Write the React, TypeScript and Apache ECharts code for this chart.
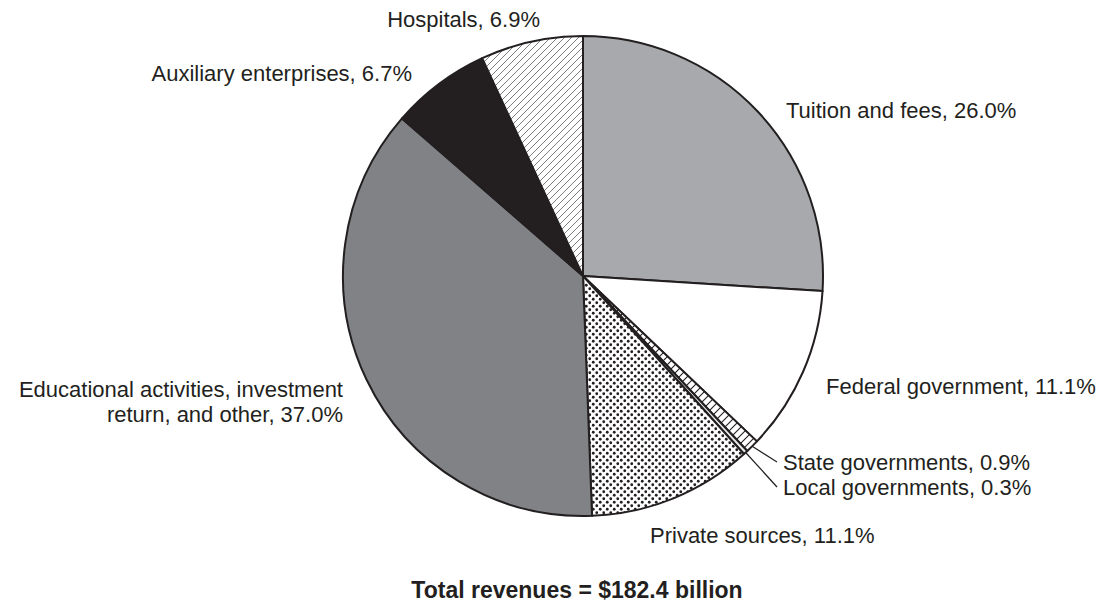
import React, { useEffect, useRef } from "react";
import * as echarts from "echarts";

const categories = [
  "Tuition and fees",
  "Federal government",
  "State governments",
  "Local governments",
  "Private sources",
  "Educational activities, investment\nreturn, and other",
  "Auxiliary enterprises",
  "Hospitals",
];
const values = [26.0, 11.1, 0.9, 0.3, 11.1, 37.0, 6.7, 6.9];
const titleText = "Total revenues = $182.4 billion";

// label layout (anchor x, y, alignment) per slice
const labelPos: { x: number; y: number; align: string }[] = [
  { x: 786, y: 110, align: "left" },
  { x: 826, y: 386, align: "left" },
  { x: 777, y: 462, align: "left" },
  { x: 777, y: 487, align: "left" },
  { x: 650, y: 535, align: "left" },
  { x: 343, y: 402, align: "right" },
  { x: 412, y: 73, align: "right" },
  { x: 540, y: 19, align: "right" },
];

function makePattern(kind: string): string {
  const c = document.createElement("canvas");
  if (kind === "hatch") {
    c.width = 7;
    c.height = 7;
    const g = c.getContext("2d")!;
    g.fillStyle = "#ffffff";
    g.fillRect(0, 0, 7, 7);
    g.strokeStyle = "#6d6e71";
    g.lineWidth = 0.9;
    g.beginPath();
    g.moveTo(-1, 8);
    g.lineTo(8, -1);
    g.moveTo(-1, 1);
    g.lineTo(1, -1);
    g.moveTo(6, 8);
    g.lineTo(8, 6);
    g.stroke();
  } else if (kind === "dots") {
    c.width = 7;
    c.height = 7;
    const g = c.getContext("2d")!;
    g.fillStyle = "#ffffff";
    g.fillRect(0, 0, 7, 7);
    g.fillStyle = "#231f20";
    const pts = [
      [1.75, 1.75],
      [5.25, 5.25],
    ];
    for (const [x, y] of pts) {
      g.beginPath();
      g.arc(x, y, 1.4, 0, Math.PI * 2);
      g.fill();
    }
  } else if (kind === "ladder") {
    c.width = 8;
    c.height = 8;
    const g = c.getContext("2d")!;
    g.fillStyle = "#ffffff";
    g.fillRect(0, 0, 8, 8);
    g.strokeStyle = "#231f20";
    g.lineWidth = 1.1;
    g.beginPath();
    g.moveTo(-1, 9);
    g.lineTo(9, -1);
    g.moveTo(-1, 1);
    g.lineTo(1, -1);
    g.moveTo(7, 9);
    g.lineTo(9, 7);
    g.stroke();
  }
  return c.toDataURL();
}

export default function App() {
  const ref = useRef<HTMLDivElement>(null);
  useEffect(() => {
    document.body.style.margin = "0";
    const chart = echarts.init(ref.current!, undefined, { renderer: "svg" });
    const fills: any[] = [
      "#a7a9ac",
      "#ffffff",
      { image: makePattern("ladder"), repeat: "repeat" },
      "#e6e7e8",
      { image: makePattern("dots"), repeat: "repeat" },
      "#808285",
      "#231f20",
      { image: makePattern("hatch"), repeat: "repeat" },
    ];
    const data = categories.map((name, i) => {
      const withLine = i === 2 || i === 3;
      return {
        name,
        value: values[i],
        itemStyle: { color: fills[i] },
        labelLine: { show: withLine },
        label: withLine ? { padding: [0, 0, 0, 6] } : {},
      };
    });
    chart.setOption({
      animation: false,
      backgroundColor: "#ffffff",
      title: {
        text: titleText,
        left: 577,
        top: 578,
        padding: 0,
        textAlign: "center",
        textStyle: {
          fontFamily: "Liberation Sans, Arial, sans-serif",
          fontWeight: "bold",
          fontSize: 23,
          color: "#231f20",
        },
      },
      series: [
        {
          type: "pie",
          center: [583, 276],
          radius: [0, 240],
          startAngle: 90,
          clockwise: true,
          avoidLabelOverlap: false,
          minAngle: 0,
          itemStyle: { borderColor: "#231f20", borderWidth: 2 },
          emphasis: { disabled: true },
          label: {
            show: true,
            position: "outside",
            color: "#231f20",
            fontFamily: "Liberation Sans, Arial, sans-serif",
            fontSize: 22,
            lineHeight: 25,
            formatter: (p: any) => `${p.name}, ${Number(p.value).toFixed(1)}%`,
          },
          labelLine: {
            length: 10,
            length2: 0,
            lineStyle: { color: "#231f20", width: 1.2 },
          },
          labelLayout: (p: any) => {
            const lp = labelPos[p.dataIndex];
            return {
              x: lp.x,
              y: lp.y,
              align: lp.align,
              verticalAlign: "middle",
            };
          },
          data,
        },
      ],
    });
    return () => chart.dispose();
  }, []);
  return <div ref={ref} style={{ width: 1101, height: 609 }} />;
}
